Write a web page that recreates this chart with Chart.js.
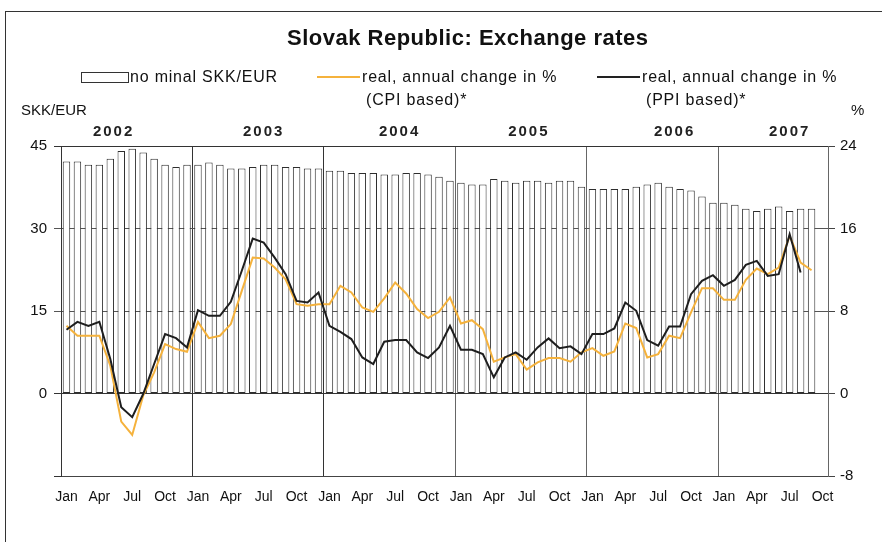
<!DOCTYPE html>
<html>
<head>
<meta charset="utf-8">
<script src="https://cdn.jsdelivr.net/npm/chart.js@4.4.1/dist/chart.umd.min.js"></script>
<style>
    body { margin: 0; background: #fff; font-family: "Liberation Sans", Arial, sans-serif; color: #111; }
    #marco { position: absolute; left: 5px; top: 11px; width: 900px; height: 560px; border-left: 1px solid #333; border-top: 1px solid #333; }
    #grafico { position: absolute; left: 0; top: 0; }
    .txt { position: absolute; white-space: nowrap; font-size: 15px; line-height: 18px; }
    .ley { font-size: 16px; letter-spacing: 0.8px; }
    .linea { position: absolute; height: 2px; }
</style>
</head>
<body>
<div id="marco"></div>
<canvas id="grafico" width="882" height="542"></canvas>

<div class="txt" style="left:287px; top:25px; font-size:22px; line-height:26px; font-weight:bold; letter-spacing:0.5px;">Slovak Republic: Exchange rates</div>

<div style="position:absolute; left:81px; top:72px; width:46px; height:9px; border:1px solid #333;"></div>
<div class="txt ley" style="left:130px; top:68px;">no minal SKK/EUR</div>
<div class="linea" style="left:317px; top:76px; width:43px; background:#f5b23c;"></div>
<div class="txt ley" style="left:362px; top:68px;">real, annual change in %</div>
<div class="txt ley" style="left:366px; top:91px;">(CPI based)*</div>
<div class="linea" style="left:597px; top:76px; width:43px; background:#222;"></div>
<div class="txt ley" style="left:642px; top:68px;">real, annual change in %</div>
<div class="txt ley" style="left:646px; top:91px;">(PPI based)*</div>

<div class="txt" style="left:21px; top:101px;">SKK/EUR</div>
<div class="txt" style="left:851px; top:101px;">%</div>

<script>
// Datos (mensuales, ene 2002 - oct 2007)
var anios = ['2002', '2003', '2004', '2005', '2006', '2007'];
var meses = ['Jan', 'Feb', 'Mar', 'Apr', 'May', 'Jun', 'Jul', 'Aug', 'Sep', 'Oct', 'Nov', 'Dec'];

// Tipo nominal SKK/EUR (eje izquierdo)
var nominal = [
    42.2, 42.2, 41.6, 41.6, 42.7, 44.1, 44.5, 43.8, 42.7, 41.6, 41.2, 41.6,
    41.6, 42.0, 41.6, 40.9, 40.9, 41.2, 41.6, 41.6, 41.2, 41.2, 40.9, 40.9,
    40.5, 40.5, 40.1, 40.1, 40.1, 39.8, 39.8, 40.1, 40.1, 39.8, 39.4, 38.7,
    38.3, 38.0, 38.0, 39.0, 38.7, 38.3, 38.7, 38.7, 38.3, 38.7, 38.7, 37.6,
    37.2, 37.2, 37.2, 37.2, 37.6, 38.0, 38.3, 37.6, 37.2, 36.9, 35.8, 34.7,
    34.7, 34.3, 33.6, 33.2, 33.6, 34.0, 33.2, 33.6, 33.6, null
];

// Variación real anual en % (eje derecho)
var realCpi = [
    6.56, 5.60, 5.60, 5.60, 2.69, -2.73, -4.02, -0.21, 2.05, 4.79, 4.31, 4.05,
    6.95, 5.37, 5.60, 6.73, 9.95, 13.18, 13.09, 12.21, 11.08, 8.66, 8.50, 8.66,
    8.66, 10.44, 9.80, 8.34, 7.92, 9.22, 10.76, 9.70, 8.18, 7.31, 7.92, 9.31,
    6.79, 7.11, 6.24, 3.08, 3.50, 3.82, 2.31, 3.02, 3.44, 3.44, 3.08, 3.99,
    4.40, 3.66, 4.08, 6.79, 6.34, 3.50, 3.82, 5.60, 5.37, 7.86, 10.21, 10.21,
    9.08, 9.08, 11.02, 12.12, 11.57, 12.21, 15.28, 12.70, 11.95, null
];

var realPpi = [
    6.18, 6.95, 6.56, 6.95, 3.34, -1.34, -2.30, -0.05, 2.86, 5.76, 5.37, 4.47,
    8.08, 7.53, 7.53, 8.89, 11.90, 15.02, 14.63, 13.18, 11.57, 8.98, 8.82, 9.80,
    6.56, 5.98, 5.28, 3.50, 2.86, 5.02, 5.18, 5.18, 3.99, 3.44, 4.47, 6.56,
    4.24, 4.24, 3.82, 1.57, 3.50, 3.99, 3.27, 4.47, 5.34, 4.40, 4.57, 3.82,
    5.76, 5.76, 6.31, 8.82, 8.02, 5.18, 4.63, 6.50, 6.50, 9.63, 10.92, 11.47,
    10.44, 11.02, 12.47, 12.86, 11.40, 11.57, 15.44, 11.73, null, null
];

// Etiquetas de categoría: un mes por barra
var etiquetas = [];
anios.forEach(function (anio) {
    meses.forEach(function (mes) {
        etiquetas.push(mes);
    });
});
etiquetas = etiquetas.slice(0, nominal.length);

var fuente = '"Liberation Sans", Arial, sans-serif';

// Plugin para escribir los años encima del área del gráfico
var yearLabelsPlugin = {
    id: 'yearLabels',
    afterDraw: function (chart) {
        var ctx = chart.ctx;
        var xScale = chart.scales.x;
        // posición (en meses dentro del año) donde va centrado cada año
        var desplaz = [4.3, 6, 6.4, 6.2, 7.5, 6];
        ctx.save();
        ctx.font = 'bold 15px ' + fuente;
        ctx.letterSpacing = '2px';
        ctx.fillStyle = '#222';
        ctx.textAlign = 'center';
        ctx.textBaseline = 'middle';
        anios.forEach(function (anio, k) {
            var px = xScale.getPixelForValue(k * 12 + desplaz[k]);
            ctx.fillText(anio, px, 132);
        });
        ctx.restore();
    }
};

function createChart() {
    var ctx = document.getElementById('grafico').getContext('2d');
    new Chart(ctx, {
        data: {
            labels: etiquetas,
            datasets: [{
                type: 'line',
                label: 'real, annual change in % (PPI based)*',
                data: realPpi,
                yAxisID: 'y1',
                borderColor: '#1e1e1e',
                borderWidth: 2,
                pointRadius: 0,
                tension: 0,
                order: 0
            }, {
                type: 'line',
                label: 'real, annual change in % (CPI based)*',
                data: realCpi,
                yAxisID: 'y1',
                borderColor: '#f5b23c',
                borderWidth: 2,
                pointRadius: 0,
                tension: 0,
                order: 1
            }, {
                type: 'bar',
                label: 'nominal SKK/EUR',
                data: nominal,
                yAxisID: 'y',
                backgroundColor: '#ffffff',
                borderColor: '#2e2e2e',
                borderWidth: 1,
                borderSkipped: false,
                categoryPercentage: 1,
                barPercentage: 0.68,
                order: 2
            }]
        },
        options: {
            responsive: false,
            devicePixelRatio: 1,
            animation: false,
            layout: { padding: { top: 146, left: 0, right: 0, bottom: 0 } },
            plugins: {
                legend: { display: false },
                tooltip: { enabled: false }
            },
            scales: {
                x: {
                    offset: true,
                    grid: {
                        offset: true,
                        drawTicks: false,
                        color: function (c) {
                            if (c.index % 12 !== 0) return 'rgba(0,0,0,0)';
                            return c.index < 36 ? '#333' : '#666';
                        }
                    },
                    border: { display: true, color: '#444' },
                    ticks: {
                        autoSkip: false,
                        maxRotation: 0,
                        padding: 13,
                        color: '#111',
                        font: { family: fuente, size: 14 },
                        callback: function (val, idx) {
                            return idx % 3 === 0 ? this.getLabelForValue(val) : '';
                        }
                    },
                    afterFit: function (scale) { scale.height = 66; }
                },
                y: {
                    position: 'left',
                    min: -15,
                    max: 45,
                    grid: {
                        tickLength: 7,
                        color: function (c) {
                            var v = c.tick ? c.tick.value : 0;
                            return (v === 15 || v === 30) ? '#555' : '#333';
                        }
                    },
                    border: { display: true, color: '#333' },
                    ticks: {
                        stepSize: 15,
                        padding: 7,
                        color: '#111',
                        font: { family: fuente, size: 15 },
                        callback: function (val) { return val < 0 ? '' : val; }
                    },
                    afterFit: function (scale) { scale.width = 61; }
                },
                y1: {
                    position: 'right',
                    min: -8,
                    max: 24,
                    grid: { drawOnChartArea: false, tickLength: 7, color: '#444' },
                    border: { display: true, color: '#666' },
                    ticks: {
                        stepSize: 8,
                        padding: 5,
                        color: '#111',
                        font: { family: fuente, size: 15 }
                    },
                    afterFit: function (scale) { scale.width = 54; }
                }
            }
        },
        plugins: [yearLabelsPlugin]
    });
}

createChart();
</script>
</body>
</html>
